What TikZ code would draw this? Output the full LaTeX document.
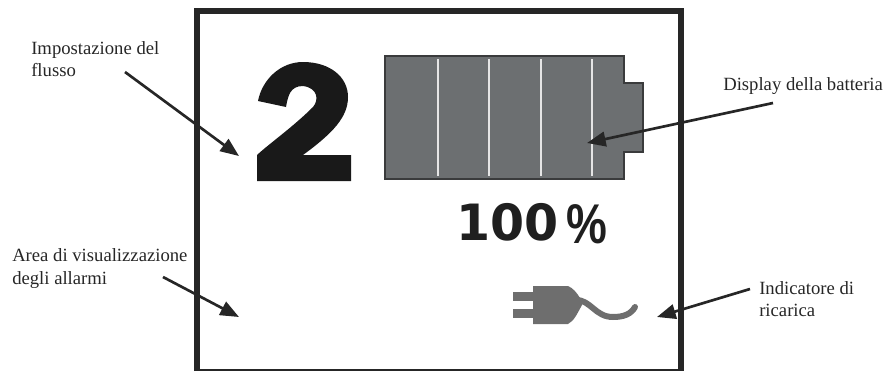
\documentclass[tikz,border=0pt]{standalone}
\usepackage{fontspec}
\setmainfont{Liberation Serif}
\newfontfamily\bigfont{DejaVu Sans}
\newfontfamily\pctfont{Liberation Sans}
\usetikzlibrary{arrows.meta}
\definecolor{framec}{HTML}{262626}
\definecolor{battc}{HTML}{6C6F71}
\definecolor{battb}{HTML}{3A3B3C}
\definecolor{plugc}{HTML}{6E6E6E}
\tikzset{
  lab/.style={align=left,anchor=north west,inner sep=0pt,font=\fontsize{14pt}{17pt}\selectfont,text=black!85},
  pointer/.style={draw=framec,line width=2pt,-{Stealth[inset=0pt,length=14pt,width=11pt]}},
}
\begin{document}
\begin{tikzpicture}[x=0.75pt,y=-0.75pt]
\useasboundingbox (0,0) rectangle (887,371);
\draw[framec,line width=4.5pt,line cap=butt] (197,371) -- (197,10.5) -- (681,10.5) -- (681,371);
\draw[framec,line width=1.6pt] (194,370) -- (684,370);
% flow digit
\fill[black!90] (257,181) -- (257,155)
  .. controls (270,143) and (293,127) .. (313,107)
  .. controls (319,100) and (318,88) .. (303,86)
  .. controls (290,86) and (288,96) .. (286,107)
  -- (258,101)
  .. controls (262,80) and (280,62) .. (303,62)
  .. controls (330,62) and (348,77) .. (348,97)
  .. controls (348,117) and (333,133) .. (303,155)
  -- (351,155) -- (351,181) -- cycle;
% battery
\draw[battb,fill=battc,line width=1.8pt] (385,56) -- (624,56) -- (624,83) -- (643,83) -- (643,152) -- (624,152) -- (624,179) -- (385,179) -- cycle;
\foreach \x in {438,489,541,592} \draw[white!90!black,line width=1.1pt] (\x,59) -- (\x,176);
% percent
\node[inner sep=0pt,anchor=base west,text=black!88] (pct) at (456,240.5) {\bigfont\bfseries\fontsize{37.5pt}{39pt}\selectfont\scalebox{.98}[1]{100}\hspace{6pt}\pctfont\fontsize{42pt}{42pt}\selectfont\raisebox{-2.5pt}{\scalebox{.82}[1]{\%}}};
% plug
\fill[plugc] (512.7,292.3) rectangle (534,300.7);
\fill[plugc] (512.7,309) rectangle (534,318.3);
\fill[plugc] (533,286) -- (568,286) .. controls (573,288) and (577,293) .. (580,298) -- (582,305) .. controls (577,314) and (574,321) .. (568,324) -- (533,324) -- cycle;
\draw[plugc,line width=4.5pt,line cap=round] (576,300) .. controls (591,300) and (595,317) .. (613,317) .. controls (624,317) and (631,314) .. (635,307);
% labels
\node[lab] (flow) at (31,41) {Impostazione del\\flusso};
\node[lab] (batt) at (723,77) {Display della batteria};
\node[lab] (alarm) at (12,248.5) {Area di visualizzazione\\degli allarmi};
\node[lab] (charge) at (759,281) {Indicatore di\\ricarica};
% pointer tips
\coordinate (flowtip) at (239,156);
\coordinate (batttip) at (587,143);
\coordinate (alarmtip) at (239,317);
\coordinate (chargetip) at (657,317);
\draw[pointer] ([shift={(94,31)}]flow.north west) -- (flowtip);
\draw[pointer] ([shift={(50,26)}]batt.north west) -- (batttip);
\draw[pointer] ([shift={(151,28.5)}]alarm.north west) -- (alarmtip);
\draw[pointer] ([shift={(-9,8)}]charge.north west) -- (chargetip);
\end{tikzpicture}
\end{document}
